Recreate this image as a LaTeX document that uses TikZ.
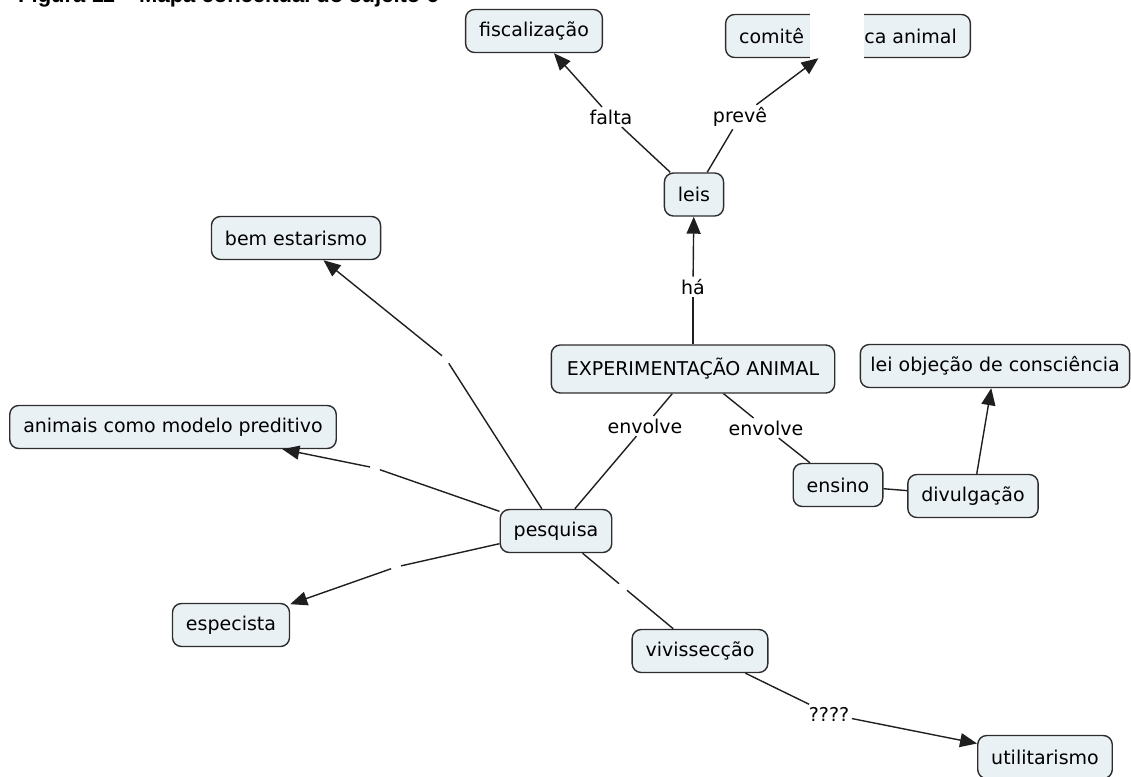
\documentclass[tikz,border=0pt]{standalone}
\usepackage{fontspec}
\setmainfont{DejaVu Sans}
\newfontfamily\titlefont{Liberation Sans}
\usetikzlibrary{arrows.meta}
\definecolor{boxfill}{RGB}{234,241,245}
\definecolor{boxline}{RGB}{45,45,45}
\begin{document}
\begin{tikzpicture}[x=1pt,y=-1pt,
  concept/.style={draw=boxline, fill=boxfill, line width=1.4pt, rounded corners=9pt,
    font=\fontsize{19}{22}\selectfont, inner xsep=13.5pt, inner ysep=0pt, minimum height=43pt},
  linklabel/.style={font=\fontsize{19}{22}\selectfont, inner sep=2.5pt},
  gapnode/.style={shape=circle, inner sep=3.5pt, minimum size=0pt},
  conn/.style={line width=1.4pt, draw=black!88},
  arr/.style={conn, -{Triangle[length=17pt,width=14pt]}}]
\useasboundingbox (0,0) rectangle (1131,776);
\begin{scope}
\clip (0,0) rectangle (1131,776);
\node[anchor=base west, inner sep=0pt, font=\titlefont\bfseries\fontsize{22}{24}\selectfont] (title) at (18,2.5) {Figura 11 – Mapa conceitual do sujeito 6};
\end{scope}

% concepts
\node[concept] (fisc) at (534,31) {fiscalização};
\node[concept] (comite) at (848,36) {comitê de ética animal};
\fill[white] (810,0) rectangle (864,59.5);
\node[concept] (leis) at (694,194.5) {leis};
\node[concept] (bem) at (296,238) {bem estarismo};
\node[concept, minimum height=48pt, inner xsep=15.5pt] (exp) at (693,369) {EXPERIMENTAÇÃO ANIMAL};
\node[concept, inner xsep=10pt] (leiobj) at (995,366) {lei objeção de consciência};
\node[concept] (animais) at (173,427) {animais como modelo preditivo};
\node[concept] (ensino) at (838,485) {ensino};
\node[concept] (divulg) at (973,496) {divulgação};
\node[concept] (pesq) at (556,531) {pesquisa};
\node[concept] (espec) at (231,625) {especista};
\node[concept] (vivi) at (700,651) {vivissecção};
\node[concept] (util) at (1045,757) {utilitarismo};

% linking phrases
\node[linklabel] (lfalta) at (611,117) {falta};
\node[linklabel] (lpreve) at (740,117) {prevê};
\node[linklabel] (lha) at (693,287) {há};
\node[linklabel] (lenv1) at (645,426) {envolve};
\node[linklabel] (lenv2) at (766,428) {envolve};
\node[linklabel] (lq) at (829,714) {????};
\node[gapnode] (gbem) at (446,359) {};
\node[gapnode] (ganim) at (375,468) {};
\node[gapnode] (gesp) at (396,567) {};
\node[gapnode] (gviv) at (623,587) {};

% connectors
\draw[conn] (leis) -- (lfalta);
\draw[arr] (lfalta) -- (fisc);
\draw[conn] (leis) -- (lpreve);
\draw[arr] (lpreve) -- (comite);
\draw[conn] (exp.north -| lha) -- (lha);
\draw[arr] (lha) -- (leis);
\draw[conn] (exp) -- (lenv1);
\draw[conn] (lenv1) -- (pesq);
\draw[conn] (exp) -- (lenv2);
\draw[conn] (lenv2) -- (ensino);
\draw[conn] (ensino) -- (divulg);
\draw[arr] (divulg) -- (leiobj);
\draw[conn] (pesq) -- (gbem);
\draw[arr] (gbem) -- (bem);
\draw[conn] (pesq) -- (ganim);
\draw[arr] (ganim) -- (animais);
\draw[conn] (pesq) -- (gesp);
\draw[arr] (gesp) -- (espec);
\draw[conn] (pesq) -- (gviv);
\draw[conn] (gviv) -- (vivi);
\draw[conn] (vivi) -- (lq);
\draw[arr] (lq) -- (util);
\end{tikzpicture}
\end{document}
